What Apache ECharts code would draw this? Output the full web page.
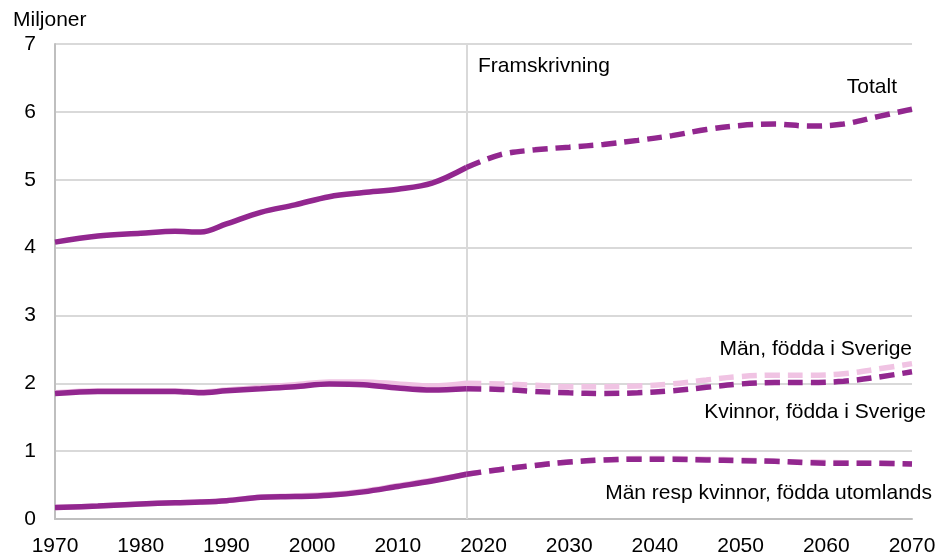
<!DOCTYPE html>
<html>
<head>
<meta charset="utf-8">
<script src="https://cdn.jsdelivr.net/npm/echarts@6/dist/echarts.min.js"></script>
<style>
  html, body { margin: 0; padding: 0; background: #fff; }
  #chart { width: 947px; height: 557px; }
</style>
</head>
<body>
<div id="chart"></div>
<script>
// years for the observed part and the projection (framskrivning)
var histYears = [1970, 1975, 1980, 1984, 1987, 1990, 1994, 1998, 2002, 2006, 2010, 2014, 2018];
var projYears = [2018, 2022, 2026, 2030, 2034, 2038, 2042, 2046, 2050, 2054, 2058, 2062, 2066, 2070];
var xTicks = [1970, 1980, 1990, 2000, 2010, 2020, 2030, 2040, 2050, 2060, 2070];
var yTicks = [0, 1, 2, 3, 4, 5, 6, 7];
var projStart = 2018;

// miljoner
var totHist = [4.08, 4.17, 4.21, 4.24, 4.23, 4.35, 4.52, 4.63, 4.75, 4.81, 4.86, 4.95, 5.18];
var totProj = [5.18, 5.37, 5.44, 5.48, 5.52, 5.58, 5.65, 5.74, 5.80, 5.82, 5.79, 5.82, 5.93, 6.04];

var menSeHist = [1.86, 1.89, 1.89, 1.89, 1.87, 1.90, 1.94, 1.98, 2.02, 2.02, 1.99, 1.96, 2.00];
var menSeProj = [2.00, 1.99, 1.97, 1.95, 1.95, 1.96, 1.99, 2.05, 2.10, 2.12, 2.12, 2.14, 2.21, 2.29];

var womSeHist = [1.85, 1.88, 1.88, 1.88, 1.86, 1.89, 1.92, 1.95, 1.99, 1.98, 1.93, 1.90, 1.92];
var womSeProj = [1.92, 1.91, 1.88, 1.86, 1.85, 1.86, 1.89, 1.94, 1.99, 2.01, 2.01, 2.03, 2.09, 2.17];

var menUtHist = [0.17, 0.19, 0.22, 0.24, 0.25, 0.27, 0.32, 0.34, 0.36, 0.41, 0.49, 0.57, 0.66];
var menUtProj = [0.66, 0.73, 0.79, 0.84, 0.87, 0.89, 0.89, 0.88, 0.87, 0.85, 0.84, 0.83, 0.82, 0.81];

var womUtHist = [0.17, 0.19, 0.22, 0.24, 0.25, 0.27, 0.32, 0.33, 0.35, 0.40, 0.48, 0.56, 0.66];
var womUtProj = [0.66, 0.73, 0.79, 0.84, 0.87, 0.88, 0.88, 0.87, 0.86, 0.85, 0.83, 0.82, 0.82, 0.81];

var PURPLE = '#92278f';
var PINK = '#f0c3e3';
var FONT = 'Liberation Sans, Arial, sans-serif';

function pairs(xs, ys) {
  return xs.map(function (x, i) { return [x, ys[i]]; });
}

function line(name, xs, ys, color, dashed, z) {
  return {
    name: name,
    type: 'line',
    data: pairs(xs, ys),
    smooth: 0.35,
    symbol: 'none',
    z: z,
    silent: true,
    lineStyle: {
      color: color,
      width: 5.5,
      type: dashed ? [15, 8] : 'solid'
    }
  };
}

var series = [
  line('Män, födda i Sverige', histYears, menSeHist, PINK, false, 2),
  line('Män, födda i Sverige', projYears, menSeProj, PINK, true, 2),
  line('Män, födda utomlands', histYears, menUtHist, PINK, false, 2),
  line('Män, födda utomlands', projYears, menUtProj, PINK, true, 2),
  line('Kvinnor, födda i Sverige', histYears, womSeHist, PURPLE, false, 3),
  line('Kvinnor, födda i Sverige', projYears, womSeProj, PURPLE, true, 3),
  line('Kvinnor, födda utomlands', histYears, womUtHist, PURPLE, false, 3),
  line('Kvinnor, födda utomlands', projYears, womUtProj, PURPLE, true, 3),
  line('Totalt', histYears, totHist, PURPLE, false, 3),
  line('Totalt', projYears, totProj, PURPLE, true, 3)
];

// vertical line where the projection starts
series[0].markLine = {
  silent: true,
  symbol: 'none',
  label: { show: false },
  lineStyle: { color: '#d9d9d9', width: 2, type: 'solid' },
  data: [{ xAxis: projStart }],
  z: 1
};

function label(text, x, y, align) {
  return {
    type: 'text', x: x, y: y, silent: true,
    style: {
      text: text, textAlign: align, textVerticalAlign: 'middle',
      fill: '#000', fontSize: 21, fontFamily: FONT
    }
  };
}

var option = {
  animation: false,
  backgroundColor: '#fff',
  grid: { left: 55, right: 35, top: 44, bottom: 36 },
  xAxis: {
    type: 'value',
    min: xTicks[0],
    max: xTicks[xTicks.length - 1],
    interval: 10,
    axisLine: { show: true, lineStyle: { color: '#bfbfbf', width: 2 } },
    axisTick: { show: false },
    splitLine: { show: false },
    axisLabel: {
      color: '#000', fontSize: 21, fontFamily: FONT, margin: 17,
      formatter: function (v) { return xTicks.indexOf(v) >= 0 ? String(v) : ''; }
    }
  },
  yAxis: {
    type: 'value',
    min: yTicks[0],
    max: yTicks[yTicks.length - 1],
    interval: 1,
    axisLine: { show: true, lineStyle: { color: '#bfbfbf', width: 2 } },
    axisTick: { show: false },
    splitLine: { show: true, lineStyle: { color: '#d9d9d9', width: 2 } },
    axisLabel: { color: '#000', fontSize: 21, fontFamily: FONT, margin: 19 }
  },
  graphic: [
    label('Miljoner', 13, 20, 'left'),
    label('Framskrivning', 478, 66, 'left'),
    label('Totalt', 897, 87, 'right'),
    label('Män, födda i Sverige', 912, 349, 'right'),
    label('Kvinnor, födda i Sverige', 926, 412, 'right'),
    label('Män resp kvinnor, födda utomlands', 932, 493, 'right')
  ],
  series: series
};

var myChart = echarts.init(document.getElementById('chart'));
myChart.setOption(option);
</script>
</body>
</html>
